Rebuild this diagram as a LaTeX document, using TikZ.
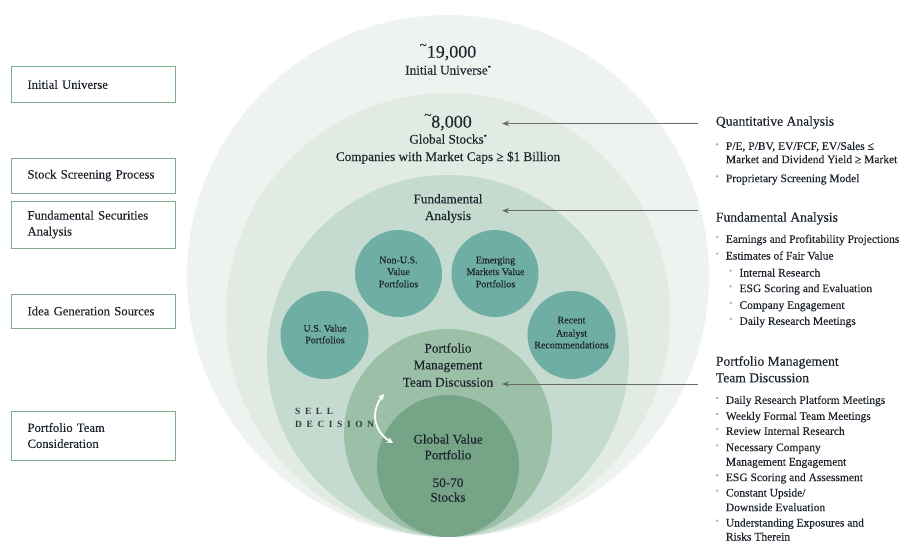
\documentclass[tikz,border=0pt]{standalone}
\usepackage{fontspec}
\setmainfont[FakeBold=0.2]{Liberation Serif}
\newfontfamily\spacedfont[LetterSpace=48]{Liberation Serif}
\usetikzlibrary{arrows.meta}

\definecolor{ink}{HTML}{1D242D}
\definecolor{ringA}{HTML}{EEF3F0}
\definecolor{ringB}{HTML}{E1EBE4}
\definecolor{ringC}{HTML}{C6DBCF}
\definecolor{ringD}{HTML}{9CBFA7}
\definecolor{ringE}{HTML}{76A487}
\definecolor{petalteal}{HTML}{6FAEA5}
\definecolor{boxgreen}{HTML}{7DAE8C}
\definecolor{bulletgreen}{HTML}{8FBF9C}
\definecolor{arrowgray}{HTML}{6A6A6A}

\tikzset{
  ring/.style={circle, inner sep=0pt, draw=none},
  petal/.style={circle, inner sep=0pt, draw=none, fill=petalteal},
  lbl/.style={anchor=base, inner sep=0pt, text=ink, font=\fontsize{13.2}{16}\selectfont},
  bignum/.style={anchor=base, inner sep=0pt, text=ink, font=\fontsize{18}{20}\selectfont},
  petaltext/.style={anchor=base, inner sep=0pt, text=ink, font=\fontsize{10}{12}\selectfont},
  leftbox/.style={draw=boxgreen, line width=1pt, anchor=west, text=ink,
    text width=132pt, inner xsep=16pt, inner ysep=0pt, align=left,
    font=\fontsize{12.7}{16}\selectfont},
  head/.style={anchor=base west, inner sep=0pt, text=ink, font=\fontsize{13.6}{16}\selectfont},
  item/.style={anchor=base west, inner sep=0pt, text=ink, font=\fontsize{11.5}{14}\selectfont},
  dot/.style={circle, fill=bulletgreen, inner sep=0pt, minimum size=2.6pt},
  feed/.style={draw=arrowgray, line width=0.9pt,
    -{Stealth[length=7pt,width=5.5pt,fill=ink!80]}},
  selltext/.style={anchor=base west, inner sep=0pt, text=ink!90,
    font=\spacedfont\bfseries\fontsize{9.5}{11}\selectfont}
}

\newcommand{\approxmark}{\raisebox{8.5pt}{\fontsize{13}{13}\selectfont\textasciitilde}}
\newcommand{\starmark}{\raisebox{5pt}{\fontsize{6}{6}\selectfont*}}

\begin{document}
\begin{tikzpicture}[x=1pt, y=-1pt]
\useasboundingbox (0,0) rectangle (908,543);
\fill[white] (0,0) rectangle (908,543);

% nested screening circles, all touching at the bottom
\node[ring, fill=ringA, minimum size=522pt] (universe) at (448,276) {};
\node[ring, fill=ringB, minimum size=444pt] (global)   at (448,315) {};
\node[ring, fill=ringC, minimum size=362pt] (fundamental) at (448,356) {};

% idea generation sources
\node[petal, minimum size=87pt] (nonus)    at (398.5,273.5) {};
\node[petal, minimum size=87pt] (emerging) at (495,273.5) {};
\node[petal, minimum size=88pt] (usvalue)  at (324.5,335) {};
\node[petal, minimum size=88pt] (recent)   at (571.5,335) {};

\node[ring, fill=ringD, minimum size=208pt] (pmteam) at (448,433) {};
\node[ring, fill=ringE, minimum size=142pt] (gvport) at (448,466) {};

% centre labels
\node[bignum] (n19000) at (448,57.7) {\approxmark19,000};
\node[lbl] (initialuniv) at (448,74.5) {Initial Universe\starmark};
\node[bignum] (n8000) at (448,127.7) {\approxmark8,000};
\node[lbl] (globalstocks) at (448,143.6) {Global Stocks\starmark};
\node[lbl] (marketcaps) at (448,161) {Companies with Market Caps ≥ \$1 Billion};
\node[lbl] (fundA) at (448,203.3) {Fundamental};
\node[lbl] (fundB) at (448,220) {Analysis};

\node[petaltext] (nonusA) at (398.5,263.3) {Non-U.S.};
\node[petaltext] (nonusB) at (398.5,275) {Value};
\node[petaltext] (nonusC) at (398.5,287.3) {Portfolios};
\node[petaltext] (emA) at (495.5,263.3) {Emerging};
\node[petaltext] (emB) at (495.5,275) {Markets Value};
\node[petaltext] (emC) at (495.5,287.3) {Portfolios};
\node[petaltext] (usA) at (325,331.6) {U.S. Value};
\node[petaltext] (usB) at (325,343.3) {Portfolios};
\node[petaltext] (recA) at (571.5,323.3) {Recent};
\node[petaltext] (recB) at (571.5,336.6) {Analyst};
\node[petaltext] (recC) at (571.5,348.3) {Recommendations};

\node[lbl] (pmA) at (448,352.6) {Portfolio};
\node[lbl] (pmB) at (448,369.3) {Management};
\node[lbl] (pmC) at (448,386.6) {Team Discussion};
\node[lbl] (gvA) at (448,443.6) {Global Value};
\node[lbl] (gvB) at (448,459.3) {Portfolio};
\node[lbl] (gvC) at (448,487) {50-70};
\node[lbl] (gvD) at (448,501.6) {Stocks};

% sell decision loop
\node[selltext] (sellA) at (295,414) {SELL};
\node[selltext] (sellB) at (295,427.5) {DECISION};
\coordinate (loopTop) at (384,394);
\coordinate (loopBot) at (393,443);
\draw[white, line width=1.8pt, {Stealth[length=6pt,width=6pt]}-{Stealth[length=6pt,width=6pt]}]
  (loopTop) .. controls (371,411) and (373,431) .. (loopBot);

% stage boxes on the left
\node[leftbox, minimum height=35pt] (boxIU)  at (11,84.5)  {Initial Universe};
\node[leftbox, minimum height=35pt] (boxSSP) at (11,175.5) {Stock Screening Process};
\node[leftbox, minimum height=47pt] (boxFSA) at (11,224.5) {Fundamental Securities\\Analysis};
\node[leftbox, minimum height=34pt] (boxIGS) at (11,311)   {Idea Generation Sources};
\node[leftbox, minimum height=49pt] (boxPTC) at (11,435.5) {Portfolio Team\\Consideration};

% right-hand descriptions
\node[head] (qaHead) at (715.7,125.7) {Quantitative Analysis};
\node[dot] (qaD1) at (717.2,144.3) {};
\node[item] (qa1) at (725.7,149.8) {P/E, P/BV, EV/FCF, EV/Sales ≤};
\node[item] (qa1b) at (725.7,163.1) {Market and Dividend Yield ≥ Market};
\node[dot] (qaD2) at (717.2,176.3) {};
\node[item] (qa2) at (725.7,182.1) {Proprietary Screening Model};

\node[head] (faHead) at (715.7,221.7) {Fundamental Analysis};
\node[dot] (faD1) at (717.2,237) {};
\node[item] (fa1) at (725.7,242.8) {Earnings and Profitability Projections};
\node[dot] (faD2) at (717.2,253.7) {};
\node[item] (fa2) at (725.7,259.5) {Estimates of Fair Value};
\node[dot] (faD3) at (730.7,270.7) {};
\node[item] (fa3) at (739.3,276.5) {Internal Research};
\node[dot] (faD4) at (730.7,286.3) {};
\node[item] (fa4) at (739.3,292.1) {ESG Scoring and Evaluation};
\node[dot] (faD5) at (730.7,303) {};
\node[item] (fa5) at (739.3,308.8) {Company Engagement};
\node[dot] (faD6) at (730.7,319) {};
\node[item] (fa6) at (739.3,324.8) {Daily Research Meetings};

\node[head] (pmHeadA) at (715.7,365.7) {Portfolio Management};
\node[head] (pmHeadB) at (715.7,382.3) {Team Discussion};
\node[dot] (pmD1) at (717.2,398) {};
\node[item] (pm1) at (725.7,403.8) {Daily Research Platform Meetings};
\node[dot] (pmD2) at (717.2,414) {};
\node[item] (pm2) at (725.7,419.8) {Weekly Formal Team Meetings};
\node[dot] (pmD3) at (717.2,429) {};
\node[item] (pm3) at (725.7,434.8) {Review Internal Research};
\node[dot] (pmD4) at (717.2,445.3) {};
\node[item] (pm4) at (725.7,451.1) {Necessary Company};
\node[item] (pm4b) at (725.7,465.5) {Management Engagement};
\node[dot] (pmD5) at (717.2,475.3) {};
\node[item] (pm5) at (725.7,481.1) {ESG Scoring and Assessment};
\node[dot] (pmD6) at (717.2,490.7) {};
\node[item] (pm6) at (725.7,496.5) {Constant Upside/};
\node[item] (pm6b) at (725.7,511.1) {Downside Evaluation};
\node[dot] (pmD7) at (717.2,520.7) {};
\node[item] (pm7) at (725.7,526.5) {Understanding Exposures and};
\node[item] (pm7b) at (725.7,540.5) {Risks Therein};

% feed arrows from the descriptions into the circles
\coordinate (qaFrom) at (698,123.5);
\coordinate (qaTo)   at (502,123.5);
\coordinate (faFrom) at (698,210.7);
\coordinate (faTo)   at (502,210.7);
\coordinate (pmFrom) at (698,384);
\coordinate (pmTo)   at (502,384);
\draw[feed] (qaFrom) -- (qaTo);
\draw[feed] (faFrom) -- (faTo);
\draw[feed] (pmFrom) -- (pmTo);
\end{tikzpicture}
\end{document}
